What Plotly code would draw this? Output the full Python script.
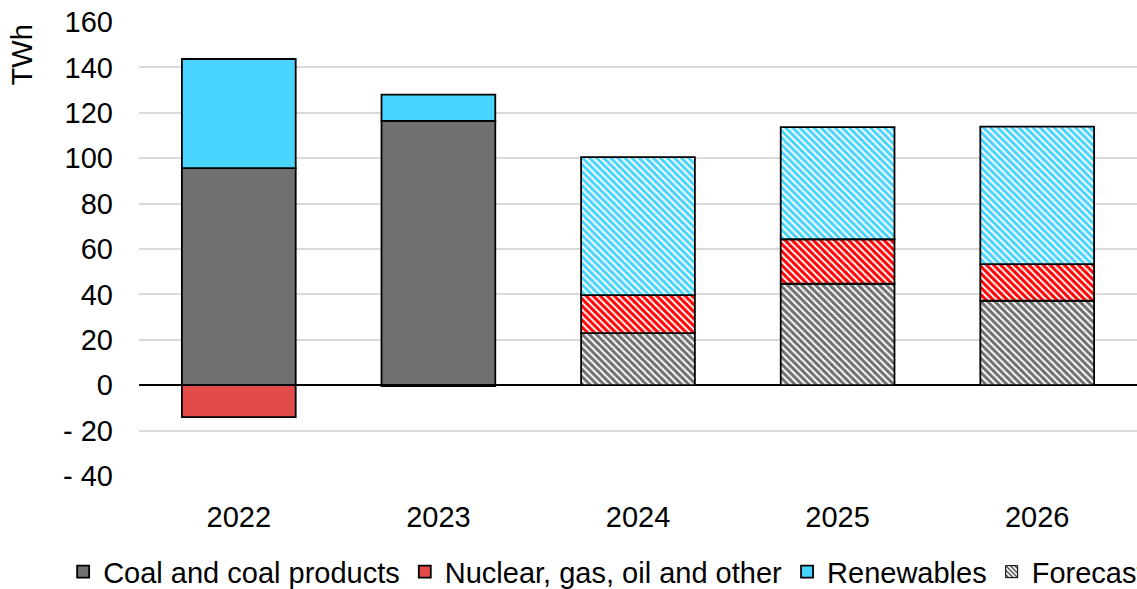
import plotly.graph_objects as go

years = ["2022", "2023", "2024", "2025", "2026"]
actual_years = ["2022", "2023"]
forecast_years = ["2024", "2025", "2026"]

coal = [95.6, 116.4, 22.9, 44.7, 37.2]
nuclear = [-14.1, -0.4, 16.8, 19.6, 16.1]
renewables = [48.1, 11.6, 60.8, 49.4, 60.6]

series_names = ["Coal and coal products", "Nuclear, gas, oil and other", "Renewables"]
series_values = [coal, nuclear, renewables]
solid_colors = ["#6F706F", "#E24B4A", "#48D4FF"]
hatch_colors = ["#6F706F", "#FF0000", "#48D4FF"]
forecast_label = "Forecast"

y_tickvals = [-40, -20, 0, 20, 40, 60, 80, 100, 120, 140, 160]
y_ticktext = ["- 40", "- 20", "0", "20", "40", "60", "80", "100", "120", "140", "160"]

FONT = "Liberation Sans, Arial, sans-serif"
fig = go.Figure()

n_act = len(actual_years)
for name, vals, sc, hc in zip(series_names, series_values, solid_colors, hatch_colors):
    fig.add_trace(go.Bar(
        x=actual_years, y=vals[:n_act], name=name,
        marker=dict(color=sc, line=dict(color="black", width=1.8)),
        showlegend=True,
    ))
    fig.add_trace(go.Bar(
        x=forecast_years, y=vals[n_act:], name=name + " (forecast)",
        marker=dict(color=hc, line=dict(color="black", width=1.8),
                    pattern=dict(shape="\\", fgcolor="white", bgcolor=hc,
                                 size=5, solidity=0.4, fillmode="replace")),
        showlegend=False,
    ))

# Legend-only entry for forecast hatch
fig.add_trace(go.Bar(
    x=[years[0]], y=[None], name=forecast_label,
    marker=dict(color="white", line=dict(color="black", width=1),
                pattern=dict(shape="\\", fgcolor="#333333", bgcolor="white",
                             size=4, solidity=0.4, fillmode="replace")),
    showlegend=True,
))

fig.update_layout(
    width=1137, height=589,
    barmode="relative", bargap=0.43,
    plot_bgcolor="white", paper_bgcolor="white",
    margin=dict(l=139, r=0, t=22, b=113, autoexpand=False),
    font=dict(family=FONT, size=29, color="black"),
    showlegend=True,
    legend=dict(orientation="h", x=-0.076, xanchor="left", y=-0.211, yanchor="middle",
                font=dict(size=29), traceorder="normal", itemclick=False,
                bgcolor="rgba(0,0,0,0)"),
    xaxis=dict(categoryorder="array", categoryarray=years, showgrid=False,
               ticks="", showline=False, ticklabelstandoff=21,
               tickfont=dict(size=29)),
    yaxis=dict(range=[-40, 160], tickvals=y_tickvals, ticktext=y_ticktext,
               showgrid=True, gridcolor="#D9D9D9", gridwidth=2,
               zeroline=True, zerolinecolor="black", zerolinewidth=2,
               showline=False, ticks="", ticklabelstandoff=25,
               tickfont=dict(size=29)),
    annotations=[dict(text="TWh", textangle=-90, xref="paper", yref="paper",
                      x=-0.117, y=0.927, showarrow=False,
                      font=dict(size=29), xanchor="center", yanchor="middle")],
)

fig.write_html("out.html", config={"displayModeBar": False},
               post_script="document.body.style.margin='0';document.body.style.overflow='hidden';")
